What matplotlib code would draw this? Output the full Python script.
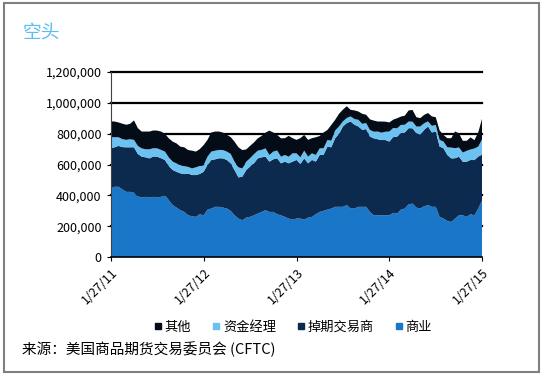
#!/usr/bin/env python3
"""Stacked area chart of short positions (空头) by trader category, CFTC data."""

import numpy as np
import pandas as pd
import matplotlib
matplotlib.use('Agg')
import matplotlib.pyplot as plt
from matplotlib.lines import Line2D
from matplotlib.patches import Rectangle
from matplotlib.ticker import FuncFormatter

plt.rcParams['font.family'] = ['Noto Sans CJK SC', 'DejaVu Sans']

# semi-monthly readings, 1/27/11 .. 1/27/15 (thousands of contracts)
dates = pd.date_range('2011-01-27', '2015-01-27', periods=97)

commercial = [445, 456, 456, 439, 423, 423, 417, 395, 386, 391, 386, 391, 386, 391,
              402, 369, 337, 321, 304, 293, 271, 265, 261, 278, 271, 308, 315, 326,
              326, 321, 315, 300, 271, 250, 239, 256, 261, 271, 282, 293, 304, 293,
              293, 278, 271, 261, 250, 243, 250, 250, 243, 256, 261, 278, 293, 300,
              308, 315, 326, 326, 326, 337, 315, 315, 326, 326, 326, 293, 271, 271,
              271, 271, 271, 287, 282, 308, 315, 343, 347, 321, 315, 330, 337, 326,
              326, 261, 250, 234, 228, 250, 271, 271, 261, 278, 271, 315, 369]
swap_dealers = [261, 256, 265, 274, 289, 289, 295, 274, 265, 256, 254, 261, 265, 250,
                228, 221, 228, 232, 239, 245, 271, 267, 271, 261, 282, 289, 315, 308,
                315, 319, 315, 308, 293, 267, 282, 308, 326, 337, 358, 354, 347, 326,
                341, 363, 337, 358, 358, 376, 380, 354, 397, 352, 369, 341, 369, 363,
                408, 397, 445, 473, 521, 532, 564, 543, 521, 499, 504, 488, 499, 493,
                488, 488, 478, 491, 499, 495, 493, 493, 488, 482, 478, 495, 510, 482,
                488, 456, 456, 428, 412, 391, 380, 347, 358, 352, 358, 337, 296]
money_managers = [72, 65, 56, 52, 48, 52, 48, 52, 54, 52, 59, 54, 54, 54,
                  54, 56, 54, 54, 54, 52, 43, 43, 50, 52, 43, 54, 54, 56,
                  54, 54, 54, 61, 54, 65, 54, 54, 54, 59, 50, 48, 54, 43,
                  50, 50, 43, 43, 43, 54, 43, 43, 50, 43, 43, 43, 43, 43,
                  43, 43, 50, 48, 33, 33, 33, 37, 43, 39, 39, 43, 43, 50,
                  48, 54, 65, 59, 54, 54, 50, 43, 43, 43, 54, 43, 33, 43,
                  43, 43, 43, 50, 70, 65, 60, 60, 70, 68, 75, 65, 100]
other = [102, 102, 96, 100, 98, 100, 126, 115, 109, 115, 115, 115, 115, 119,
         115, 124, 130, 130, 119, 122, 109, 115, 102, 109, 130, 109, 124, 124,
         119, 113, 109, 109, 130, 130, 119, 80, 80, 76, 80, 91, 102, 158,
         124, 102, 119, 109, 135, 98, 87, 124, 102, 109, 98, 115, 80, 102,
         65, 102, 69, 82, 76, 76, 43, 56, 54, 65, 54, 69, 72, 65,
         72, 65, 59, 54, 65, 54, 59, 72, 76, 61, 54, 54, 54, 61,
         50, 61, 43, 59, 61, 109, 91, 76, 65, 78, 54, 93, 135]

labels = ['商业', '掉期交易商', '资金经理', '其他']
colors = ['#1a76c8', '#0c2a4e', '#6bc1ef', '#040c18']

tick_dates = pd.to_datetime(['2011-01-27', '2012-01-27', '2013-01-27',
                             '2014-01-27', '2015-01-27'])
tick_labels = ['1/27/11', '1/27/12', '1/27/13', '1/27/14', '1/27/15']


def main():
    fig = plt.figure(figsize=(5.43, 3.77), dpi=100)
    ax = fig.add_axes([0.204, 0.318, 0.684, 0.491])

    series = [np.array(s) * 1000 for s in (commercial, swap_dealers, money_managers, other)]
    ax.stackplot(dates, *series, colors=colors, linewidth=0, zorder=2)

    yticks = np.arange(0, 1200001, 200000)
    ax.set_ylim(0, 1200000)
    ax.set_yticks(yticks)
    ax.yaxis.set_major_formatter(FuncFormatter(lambda v, p: f'{int(v):,}'))
    ax.set_xlim(dates[0], dates[-1])
    ax.set_xticks(tick_dates)
    ax.set_xticklabels(tick_labels, rotation=45, ha='right', rotation_mode='anchor')

    # horizontal gridlines sit behind the areas
    for v in yticks[1:]:
        ax.axhline(v, color='black', linewidth=1.6, zorder=1, clip_on=False)
    for side in ('top', 'right'):
        ax.spines[side].set_visible(False)
    ax.spines['left'].set_color('#404040')
    ax.spines['left'].set_linewidth(0.8)
    ax.spines['bottom'].set_linewidth(1.2)
    ax.tick_params(axis='both', labelsize=9, length=3, width=0.8, colors='black')

    # title and source
    fig.text(0.041, 0.915, '空头', color='#5bbdf0', fontsize=13.5, va='center')
    fig.text(0.041, 0.072, '来源：美国商品期货交易委员会 (CFTC)', fontsize=10.5, va='center')

    handles = [Line2D([], [], marker='s', linestyle='none', markersize=4,
                      color=colors[i]) for i in (3, 2, 1, 0)]
    fig.legend(handles, [labels[i] for i in (3, 2, 1, 0)], ncol=4,
               loc='center', bbox_to_anchor=(0.54, 0.132), frameon=False,
               fontsize=9.5, handlelength=0.6, handletextpad=0.2,
               columnspacing=1.6)

    fig.patches.append(Rectangle((0.008, 0.013), 0.984, 0.978, transform=fig.transFigure,
                                 fill=False, edgecolor='#7f7f7f', linewidth=1.5))

    fig.savefig('out.png', dpi=100)


if __name__ == '__main__':
    main()
